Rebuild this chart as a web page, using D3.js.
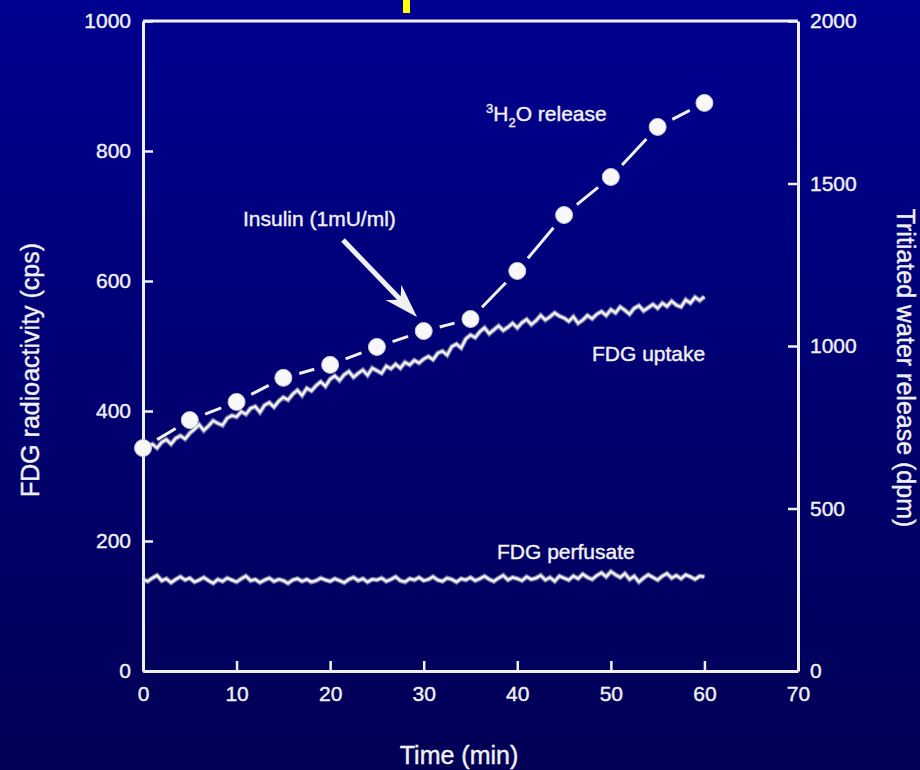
<!DOCTYPE html>
<html>
<head>
<meta charset="utf-8">
<script src="https://cdn.jsdelivr.net/npm/d3@7"></script>
<style>
  body { margin: 0; padding: 0; background: #000070; }
  svg text { font-family: "Liberation Sans", Arial, sans-serif; fill: #f0f0f0; stroke: #f0f0f0; stroke-width: 0.4px; }
</style>
</head>
<body>
<div id="container"></div>
<script>
// tritiated water release, one point every 5 min (dpm, right axis)
var h2oTime = [0, 5, 10, 15, 20, 25, 30, 35, 40, 45, 50, 55, 60];
var h2oDpm = [686, 772, 828, 902, 942, 997, 1046, 1083, 1231, 1403, 1520, 1674, 1748];

// continuous traces, one reading every half minute from 0 to 60 min (cps, left axis)
var traceStep = 0.5;
var fdgUptake = [
  340, 346, 349, 343, 352, 356, 349, 358, 362, 357,
  366, 372, 379, 370, 377, 385, 381, 378, 389, 393,
  391, 399, 395, 404, 407, 398, 409, 413, 406, 415,
  421, 417, 426, 432, 424, 435, 431, 439, 445, 438,
  449, 454, 447, 456, 461, 452, 458, 463, 455, 466,
  462, 458, 469, 465, 472, 466, 475, 471, 478, 474,
  480, 484, 479, 489, 492, 486, 499, 503, 497, 511,
  517, 513, 522, 528, 519, 525, 531, 524, 529, 535,
  528, 536, 541, 533, 539, 547, 540, 545, 551, 546,
  543, 538, 545, 535, 540, 547, 542, 549, 553, 547,
  556, 551, 560, 555, 549, 558, 562, 554, 559, 564,
  558, 566, 561, 569, 563, 560, 571, 566, 575, 570,
  576
];
var fdgPerfusate = [
  141, 138, 143, 147, 139, 142, 136, 141, 145, 140,
  143, 137, 140, 144, 139, 135, 141, 138, 143, 140,
  137, 142, 146, 139, 141, 136, 140, 143, 138, 141,
  139, 135, 140, 142, 138, 141, 137, 139, 143, 140,
  138, 142, 139, 136, 141, 144, 139, 142, 137, 141,
  140, 143, 138, 141, 145, 139, 137, 142, 140, 144,
  139, 141, 145, 140, 138, 143, 141, 137, 142, 140,
  144, 139, 142, 146, 141, 138, 143, 147, 140, 144,
  142, 139, 145, 141, 143, 147, 140, 144, 138, 146,
  143, 140, 146, 142, 149, 144, 141, 147, 151, 145,
  153, 148, 144, 150, 141, 146, 137, 143, 148, 144,
  140, 146, 150, 143, 147, 142, 148, 145, 141, 146,
  145
];

var xTicks = [0, 10, 20, 30, 40, 50, 60, 70];
var leftTicks = [0, 200, 400, 600, 800, 1000];
var rightTicks = [0, 500, 1000, 1500, 2000];

var w = 920;
var h = 770;
var ink = "#f0f0f0";

var svg = d3.select("div#container")
            .append("svg")
            .attr("width", w)
            .attr("height", h);

// fond bleu en degradé
var grad = svg.append("defs").append("linearGradient")
    .attr("id", "fond")
    .attr("x1", 0).attr("y1", 0).attr("x2", 0).attr("y2", 1);
grad.append("stop").attr("offset", "0%").attr("stop-color", "#000090");
grad.append("stop").attr("offset", "100%").attr("stop-color", "#000055");
svg.append("rect").attr("width", w).attr("height", h).attr("fill", "url(#fond)");

// petit morceau jaune en haut
svg.append("rect").attr("x", 403).attr("y", 0).attr("width", 7).attr("height", 13).attr("fill", "#ffff00");

var x = d3.scaleLinear().domain([0, 70]).range([143, 798]);
var yLeft = d3.scaleLinear().domain([0, 1000]).range([671, 21]);
var yRight = d3.scaleLinear().domain([0, 2000]).range([671, 21]);

function styleAxis(g) {
    g.select(".domain").attr("stroke", ink).attr("stroke-width", 3);
    g.selectAll(".tick line").attr("stroke", ink).attr("stroke-width", 2.5);
    g.selectAll(".tick text").attr("fill", ink).style("font-size", "21px");
}

svg.append("g")
    .attr("transform", "translate(0,671)")
    .call(d3.axisBottom(x).tickValues(xTicks).tickFormat(d3.format("d"))
        .tickSizeInner(-10).tickSizeOuter(0).tickPadding(15))
    .call(styleAxis);

svg.append("g")
    .attr("transform", "translate(143,0)")
    .call(d3.axisLeft(yLeft).tickValues(leftTicks).tickFormat(d3.format("d"))
        .tickSizeInner(-10).tickSizeOuter(0).tickPadding(12))
    .call(styleAxis);

svg.append("g")
    .attr("transform", "translate(798,0)")
    .call(d3.axisRight(yRight).tickValues(rightTicks).tickFormat(d3.format("d"))
        .tickSizeInner(-10).tickSizeOuter(0).tickPadding(12))
    .call(styleAxis);

// ligne du haut du cadre
svg.append("line")
    .attr("x1", x(0)).attr("x2", x(70))
    .attr("y1", yLeft(1000)).attr("y2", yLeft(1000))
    .attr("stroke", ink).attr("stroke-width", 3);

// traces bruitées
var trace = d3.line()
    .x(function(d, i) { return x(i * traceStep); })
    .y(function(d) { return yLeft(d); });

[fdgUptake, fdgPerfusate].forEach(function(serie) {
    svg.append("path")
        .attr("d", trace(serie))
        .attr("fill", "none")
        .attr("stroke", "#b8b8c8")
        .attr("stroke-width", 5)
        .attr("stroke-opacity", 0.6);
    svg.append("path")
        .attr("d", trace(serie))
        .attr("fill", "none")
        .attr("stroke", ink)
        .attr("stroke-width", 2.5);
});

// eau tritiée : tirets entre les points
var r = 8.5;
var pts = h2oTime.map(function(t, i) {
    return { px: x(t), py: yRight(h2oDpm[i]) };
});
var segs = [];
for (var i = 0; i < pts.length - 1; i++) {
    segs.push([pts[i], pts[i + 1]]);
}
svg.selectAll(".seg")
    .data(segs)
    .enter()
    .append("line")
    .attr("class", "seg")
    .each(function(s) {
        var dx = s[1].px - s[0].px;
        var dy = s[1].py - s[0].py;
        var len = Math.sqrt(dx * dx + dy * dy);
        var cut = r + 8;
        var ux = dx / len, uy = dy / len;
        d3.select(this)
            .attr("x1", s[0].px + ux * cut).attr("y1", s[0].py + uy * cut)
            .attr("x2", s[1].px - ux * cut).attr("y2", s[1].py - uy * cut);
    })
    .attr("stroke", ink)
    .attr("stroke-width", 3);

svg.selectAll(".dot")
    .data(pts)
    .enter()
    .append("circle")
    .attr("class", "dot")
    .attr("cx", function(d) { return d.px; })
    .attr("cy", function(d) { return d.py; })
    .attr("r", r)
    .attr("fill", "#f8f8f8")
    .attr("stroke", "#c8c8d0")
    .attr("stroke-width", 1);

// flèche insuline
var ax1 = 343, ay1 = 240, ax2 = 417, ay2 = 317;
var ang = Math.atan2(ay2 - ay1, ax2 - ax1);
var headLen = 34, headW = 11;
var bx = ax2 - Math.cos(ang) * headLen, by = ay2 - Math.sin(ang) * headLen;
svg.append("line")
    .attr("x1", ax1).attr("y1", ay1)
    .attr("x2", ax2 - Math.cos(ang) * 20).attr("y2", ay2 - Math.sin(ang) * 20)
    .attr("stroke", ink).attr("stroke-width", 5);
svg.append("path")
    .attr("d", "M" + ax2 + "," + ay2 +
        "L" + (bx - Math.sin(ang) * headW) + "," + (by + Math.cos(ang) * headW) +
        "L" + (ax2 - Math.cos(ang) * 24) + "," + (ay2 - Math.sin(ang) * 24) +
        "L" + (bx + Math.sin(ang) * headW) + "," + (by - Math.cos(ang) * headW) + "Z")
    .attr("fill", ink);

// textes
svg.append("text")
    .attr("x", 243).attr("y", 226)
    .style("font-size", "21px")
    .text("Insulin (1mU/ml)");

var h2oLabel = svg.append("text")
    .attr("x", 486).attr("y", 121)
    .style("font-size", "21px");
h2oLabel.append("tspan").attr("dy", -8).style("font-size", "13px").text("3");
h2oLabel.append("tspan").attr("dy", 8).text("H");
h2oLabel.append("tspan").attr("dy", 6).style("font-size", "13px").text("2");
h2oLabel.append("tspan").attr("dy", -6).text("O release");

svg.append("text")
    .attr("x", 592).attr("y", 361)
    .style("font-size", "21px")
    .text("FDG uptake");

svg.append("text")
    .attr("x", 497).attr("y", 559)
    .style("font-size", "21px")
    .text("FDG perfusate");

svg.append("text")
    .attr("x", 459).attr("y", 764)
    .attr("text-anchor", "middle")
    .style("font-size", "25px")
    .text("Time (min)");

svg.append("text")
    .attr("transform", "translate(39,370) rotate(-90)")
    .attr("text-anchor", "middle")
    .style("font-size", "25px")
    .text("FDG radioactivity (cps)");

svg.append("text")
    .attr("transform", "translate(897,368) rotate(90)")
    .attr("text-anchor", "middle")
    .style("font-size", "25px")
    .text("Tritiated water release (dpm)");
</script>
</body>
</html>
